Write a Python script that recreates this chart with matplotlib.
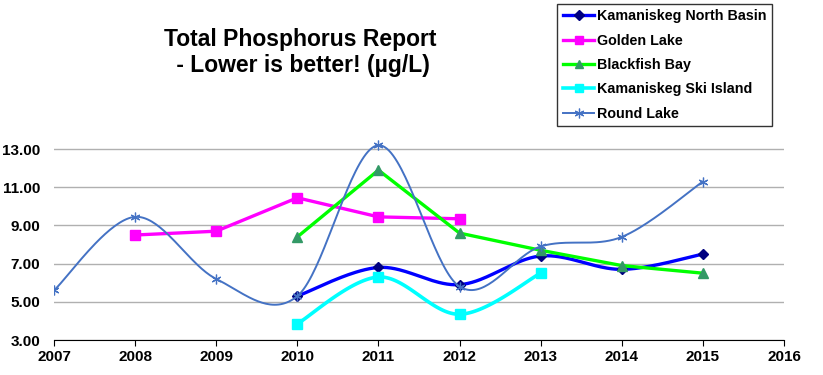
import numpy as np
import matplotlib.pyplot as plt
from matplotlib.lines import Line2D

plt.rcParams['font.family'] = ['Liberation Sans', 'DejaVu Sans']
plt.rcParams['font.weight'] = 'bold'

# Datos
years_knb = [2010, 2011, 2012, 2013, 2014, 2015]
knb = [5.3, 6.8, 5.9, 7.4, 6.7, 7.5]

years_golden = [2008, 2009, 2010, 2011, 2012]
golden = [8.5, 8.7, 10.45, 9.45, 9.35]

years_blackfish = [2010, 2011, 2012, 2013, 2014, 2015]
blackfish = [8.4, 11.9, 8.6, 7.7, 6.9, 6.5]

years_ski = [2010, 2011, 2012, 2013]
ski = [3.85, 6.3, 4.35, 6.5]

years_round = [2007, 2008, 2009, 2010, 2011, 2012, 2013, 2014, 2015]
round_lake = [5.6, 9.45, 6.2, 5.3, 13.2, 5.8, 7.9, 8.4, 11.3]

year_ticks = list(range(2007, 2017))
y_ticks = [3, 5, 7, 9, 11, 13]


def suavizar(xs, ys, n=40):
    # curva suavizada tipo Excel (Bezier con puntos de control de los vecinos)
    p = np.column_stack([xs, ys]).astype(float)
    out = [p[0]]
    t = np.linspace(0, 1, n)[1:, None]
    for i in range(len(p) - 1):
        p0 = p[i - 1] if i > 0 else p[i]
        p1 = p[i]
        p2 = p[i + 1]
        p3 = p[i + 2] if i + 2 < len(p) else p[i + 1]
        c1 = p1 + (p2 - p0) / 6
        c2 = p2 - (p3 - p1) / 6
        seg = (1 - t)**3 * p1 + 3 * (1 - t)**2 * t * c1 + 3 * (1 - t) * t**2 * c2 + t**3 * p2
        out.extend(seg)
    out = np.array(out)
    return out[:, 0], out[:, 1]


fig = plt.figure(figsize=(8.23, 3.75), dpi=100)
ax = fig.add_axes([0.0656, 0.0933, 0.887, 0.56])

# Kamaniskeg North Basin
sx, sy = suavizar(years_knb, knb)
ax.plot(sx, sy, color='#0000FF', lw=2.4, zorder=3)
ax.plot(years_knb, knb, ls='none', marker='D', ms=5, color='#000080', zorder=3)

# Golden Lake
ax.plot(years_golden, golden, color='#FF00FF', lw=2.4, marker='s', ms=7, zorder=4)

# Blackfish Bay
ax.plot(years_blackfish, blackfish, color='#00FF00', lw=2.4, zorder=5)
ax.plot(years_blackfish, blackfish, ls='none', marker='^', ms=7, color='#339966', zorder=5)

# Kamaniskeg Ski Island
sx, sy = suavizar(years_ski, ski)
ax.plot(sx, sy, color='#00FFFF', lw=2.6, zorder=6)
ax.plot(years_ski, ski, ls='none', marker='s', ms=7, color='#00FFFF', zorder=6)

# Round Lake
sx, sy = suavizar(years_round, round_lake)
ax.plot(sx, sy, color='#4472C4', lw=1.4, zorder=7)
ax.plot(years_round, round_lake, ls='none', marker=(6, 2, 0), ms=7, mew=0.9,
        color='#4472C4', zorder=7)

ax.set_xlim(2007, 2016)
ax.set_ylim(3, 14)
ax.set_xticks(year_ticks)
ax.set_yticks(y_ticks)
ax.set_yticklabels(['%.2f' % v for v in y_ticks])
ax.grid(axis='y', color='#B0B0B0', lw=1)
ax.set_axisbelow(True)
for s in ['top', 'right', 'left']:
    ax.spines[s].set_visible(False)
ax.spines['bottom'].set_color('black')
ax.tick_params(axis='x', direction='out', length=4, labelsize=11, pad=3)
ax.tick_params(axis='y', length=0, labelsize=11, pad=10)

fig.text(0.365, 0.86, 'Total Phosphorus Report\n - Lower is better! (\u00b5g/L)',
         ha='center', va='center', fontsize=16.5, fontweight='bold', linespacing=1.2)

handles = [
    Line2D([], [], color='#0000FF', lw=2.4, marker='D', ms=5, mfc='#000080', mec='#000080'),
    Line2D([], [], color='#FF00FF', lw=2.4, marker='s', ms=6),
    Line2D([], [], color='#00FF00', lw=2.4, marker='^', ms=6, mfc='#339966', mec='#339966'),
    Line2D([], [], color='#00FFFF', lw=2.6, marker='s', ms=6),
    Line2D([], [], color='#4472C4', lw=1.4, marker=(6, 2, 0), ms=7, mew=0.9),
]
labels = ['Kamaniskeg North Basin', 'Golden Lake', 'Blackfish Bay',
          'Kamaniskeg Ski Island', 'Round Lake']
leg = fig.legend(handles, labels, loc='upper left', bbox_to_anchor=(0.677, 0.99),
                 frameon=True, fancybox=False, edgecolor='black', fontsize=10.3,
                 handlelength=2.2, handletextpad=0.2, labelspacing=0.72,
                 borderpad=0.4, borderaxespad=0)
leg.get_frame().set_linewidth(1)

plt.savefig('out.png', dpi=100)
